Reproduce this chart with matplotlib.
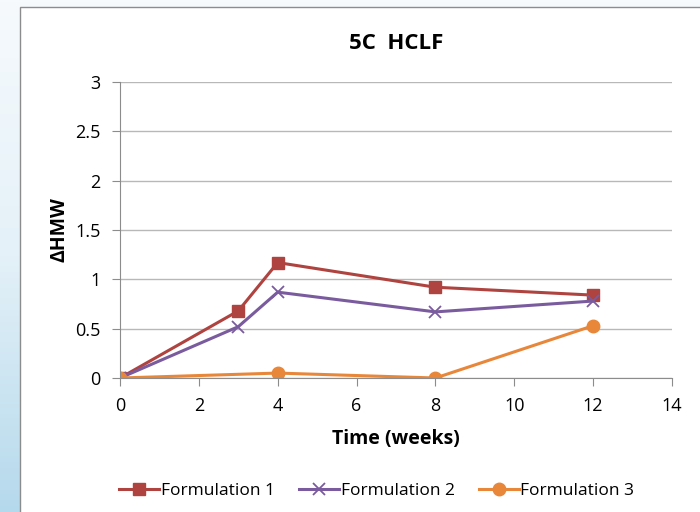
import matplotlib
matplotlib.use("Agg")
import matplotlib.pyplot as plt
import numpy as np
from matplotlib.patches import Rectangle

plt.rcParams['font.family'] = ['Open Sans', 'DejaVu Sans']

# data
weeks_f1 = [0, 3, 4, 8, 12]
hmw_f1 = [0, 0.68, 1.17, 0.92, 0.84]
weeks_f2 = [0, 3, 4, 8, 12]
hmw_f2 = [0, 0.52, 0.87, 0.67, 0.78]
weeks_f3 = [0, 4, 8, 12]
hmw_f3 = [0, 0.05, 0.0, 0.53]
labels = ['Formulation 1', 'Formulation 2', 'Formulation 3']

fig = plt.figure(figsize=(7, 5.12), dpi=100)

# light blue backdrop with a soft vertical gradient
bg = fig.add_axes([0, 0, 1, 1], zorder=-10)
grad = np.linspace(0, 1, 256).reshape(-1, 1)
bg.imshow(grad, aspect='auto', cmap=matplotlib.colors.LinearSegmentedColormap.from_list(
    'bgc', ['#f6fafd', '#e4f1f8', '#b5d9ec']), extent=[0, 1, 0, 1], origin='upper')
bg.set_xlim(0, 1)
bg.set_ylim(0, 1)
bg.axis('off')
bg.add_patch(Rectangle((20 / 700, -0.01), 1, 1 - 7 / 512 + 0.01, facecolor='white',
                       edgecolor='#8c8c8c', linewidth=1.0))

ax = fig.add_axes([120 / 700, 1 - 378 / 512, 552 / 700, 296 / 512])
ax.plot(weeks_f1, hmw_f1, color='#ae433f', marker='s', markersize=8, linewidth=2.2, label=labels[0])
ax.plot(weeks_f2, hmw_f2, color='#7a5c9e', marker='x', markersize=9, markeredgewidth=1.3,
        linewidth=2.2, label=labels[1])
ax.plot(weeks_f3, hmw_f3, color='#e8873a', marker='o', markersize=9, linewidth=2.2, label=labels[2])

ax.set_xlim(0, 14)
ax.set_ylim(0, 3)
ax.set_xticks(np.arange(0, 15, 2))
ax.set_yticks(np.arange(0, 3.01, 0.5))
ax.set_yticklabels(['0', '0.5', '1', '1.5', '2', '2.5', '3'])
ax.grid(axis='y', color='#b8b8b8', linewidth=1)
ax.set_axisbelow(True)
for s in ['top', 'right']:
    ax.spines[s].set_visible(False)
for s in ['left', 'bottom']:
    ax.spines[s].set_color('#8c8c8c')
ax.tick_params(direction='out', length=6, color='#8c8c8c', labelsize=13, pad=8)
ax.set_facecolor('none')

ax.set_title('5C  HCLF', fontsize=16, fontweight='bold', pad=24)
ax.set_xlabel('Time (weeks)', fontsize=14, fontweight='bold', labelpad=10)
ax.set_ylabel('ΔHMW', fontsize=14, fontweight='bold', labelpad=4)

ax.legend(loc='upper center', bbox_to_anchor=(0.465, -0.3), ncol=3, frameon=False,
          fontsize=12.5, handlelength=2.3, columnspacing=1.4, handletextpad=0.1)

fig.savefig('out.png', dpi=100)
